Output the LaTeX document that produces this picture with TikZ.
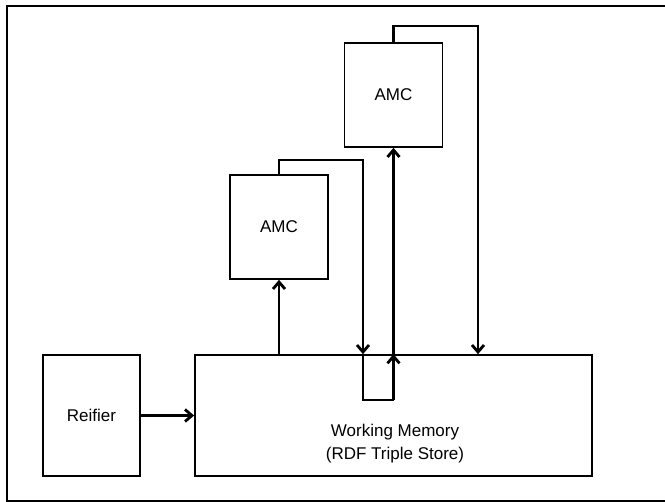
\documentclass[tikz,border=0pt]{standalone}
\usepackage{fontspec}
\setmainfont{Liberation Sans}
\usetikzlibrary{arrows.meta,calc}
\begin{document}
\begin{tikzpicture}[x=1pt,y=-1pt,
  box/.style={draw,line width=1.7pt,minimum width=98pt,minimum height=104pt,inner sep=0pt,font=\fontsize{17}{20}\selectfont},
  conn/.style={line width=2.8pt,-{Straight Barb[length=7pt,width=12pt]}},
  seg/.style={line width=2.8pt}]
\useasboundingbox (0,0) rectangle (665,502);
\draw[line width=1.8pt] (665,6) -- (7,6) -- (7,501) -- (665,501);
\node[box,minimum width=97pt,minimum height=121pt] (reif) at (91.5,415.5) {Reifier};
\node[box,minimum width=397pt,minimum height=121pt] (wm) at (393.5,415.5) {};
\node[font=\fontsize{17}{23}\selectfont,align=center] (wmt) at (395,444) {Working Memory\\(RDF Triple Store)};
\node[box] (amc1) at (279,227) {AMC};
\node[box] (amc2) at (393.5,95) {AMC};
\coordinate (c1) at (363,160);
\coordinate (c2) at (478,26);
\coordinate (lb) at (363,400);
\coordinate (rb) at (393.5,400);
\draw[conn] (reif.east) -- (wm.west);
\draw[conn] (amc1.south |- wm.north) -- (amc1.south);
\draw[conn] (amc1.north) |- (c1) -- (c1 |- wm.north);
\draw[seg] (c1 |- wm.north) -- (lb) -- (rb);
\draw[conn] (rb) -- (amc2.south |- wm.north);
\draw[conn] (amc2.south |- wm.north) -- (amc2.south);
\draw[conn] (amc2.north) |- (c2) -- (c2 |- wm.north);
\end{tikzpicture}
\end{document}
